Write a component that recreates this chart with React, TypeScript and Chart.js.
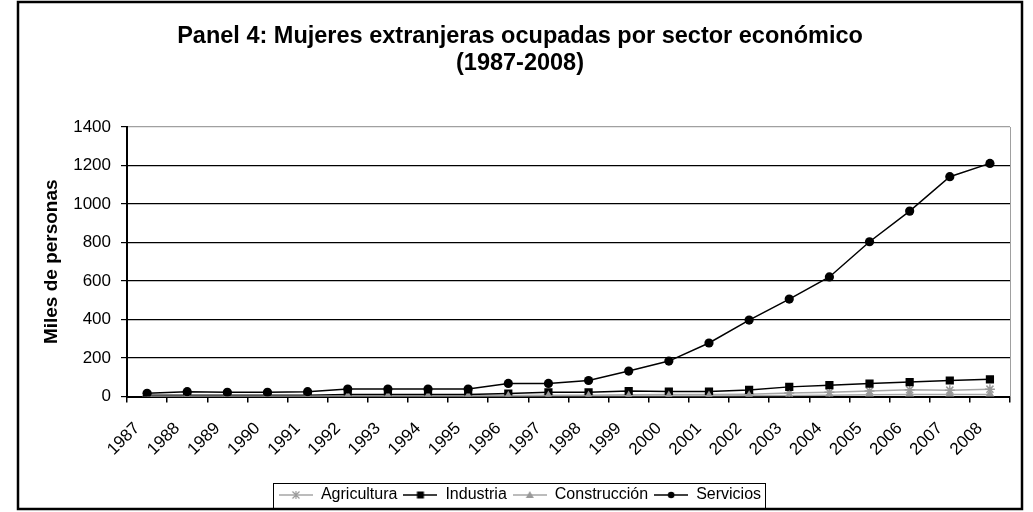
import React, { useEffect, useRef } from 'react';
import { Chart, registerables } from 'chart.js';

Chart.register(...registerables);

const years = ['1987', '1988', '1989', '1990', '1991', '1992', '1993', '1994', '1995', '1996', '1997',
  '1998', '1999', '2000', '2001', '2002', '2003', '2004', '2005', '2006', '2007', '2008'];
const agricultura = [3, 3, 3, 3, 3, 4, 4, 4, 4, 5, 7, 7, 9, 10, 10, 12, 18, 22, 28, 35, 33, 38];
const industria = [6, 6, 6, 6, 6, 10, 10, 10, 10, 15, 22, 22, 28, 26, 26, 34, 50, 59, 67, 75, 83, 89];
const construccion = [1, 1, 1, 1, 1, 1, 1, 1, 1, 1, 2, 2, 2, 3, 3, 4, 5, 7, 9, 10, 10, 10];
const servicios = [17, 25, 22, 22, 25, 39, 39, 39, 39, 68, 68, 83, 132, 184, 278, 397, 506, 621, 804, 963, 1142, 1211];
const yTicks = [0, 200, 400, 600, 800, 1000, 1200, 1400];

const FONT = "'Liberation Sans', Arial, Helvetica, sans-serif";

function makeSymbol(lineColor: string, markerColor: string, kind: string): HTMLCanvasElement {
  const c = document.createElement('canvas');
  c.width = 34;
  c.height = 12;
  const ctx = c.getContext('2d')!;
  ctx.strokeStyle = lineColor;
  ctx.lineWidth = 1.5;
  ctx.beginPath();
  ctx.moveTo(0, 6);
  ctx.lineTo(34, 6);
  ctx.stroke();
  const cx = 17, cy = 6;
  ctx.fillStyle = markerColor;
  ctx.strokeStyle = markerColor;
  if (kind === 'rect') {
    ctx.fillRect(cx - 3.5, cy - 3.5, 7, 7);
  } else if (kind === 'circle') {
    ctx.beginPath();
    ctx.arc(cx, cy, 3.3, 0, Math.PI * 2);
    ctx.fill();
  } else if (kind === 'triangle') {
    ctx.beginPath();
    ctx.moveTo(cx, cy - 4);
    ctx.lineTo(cx + 4, cy + 3);
    ctx.lineTo(cx - 4, cy + 3);
    ctx.closePath();
    ctx.fill();
  } else {
    ctx.lineWidth = 1.2;
    ctx.beginPath();
    ctx.moveTo(cx - 3.5, cy - 3.5); ctx.lineTo(cx + 3.5, cy + 3.5);
    ctx.moveTo(cx + 3.5, cy - 3.5); ctx.lineTo(cx - 3.5, cy + 3.5);
    ctx.moveTo(cx, cy - 4); ctx.lineTo(cx, cy + 4);
    ctx.stroke();
  }
  return c;
}

const framePlugin = {
  id: 'frame',
  afterDraw(chart: any) {
    const ctx = chart.ctx;
    ctx.save();
    const boxes = chart.legend?.legendHitBoxes || [];
    if (boxes.length) {
      let l = Infinity, r = -Infinity, t = Infinity, b = -Infinity;
      for (const h of boxes) {
        l = Math.min(l, h.left);
        r = Math.max(r, h.left + h.width);
        t = Math.min(t, h.top);
        b = Math.max(b, h.top + h.height);
      }
      ctx.strokeStyle = '#000';
      ctx.lineWidth = 1;
      ctx.strokeRect(Math.round(l - 6) + 0.5, Math.round(t - 4) + 0.5, Math.round(r - l + 10), Math.round(b - t + 9));
    }
    ctx.strokeStyle = '#000';
    ctx.lineWidth = 2.5;
    ctx.strokeRect(18, 2, 1004, 507);
    ctx.restore();
  },
};

export default function App() {
  const canvasRef = useRef<HTMLCanvasElement | null>(null);

  useEffect(() => {
    if (!canvasRef.current) return;
    const symbols = [
      makeSymbol('#a6a6a6', '#9a9a9a', 'star'),
      makeSymbol('#000000', '#000000', 'rect'),
      makeSymbol('#a6a6a6', '#999999', 'triangle'),
      makeSymbol('#000000', '#000000', 'circle'),
    ];
    const chart = new Chart(canvasRef.current, {
      type: 'line',
      data: {
        labels: years,
        datasets: [
          {
            label: 'Agricultura', data: agricultura, borderColor: '#a6a6a6', borderWidth: 1.5,
            pointStyle: 'star', pointRadius: 5, pointBorderColor: '#9a9a9a', pointBackgroundColor: '#9a9a9a',
            pointBorderWidth: 1.5, order: 3, tension: 0,
          },
          {
            label: 'Industria', data: industria, borderColor: '#000', borderWidth: 1.5,
            pointStyle: 'rect', pointRadius: 5.8, pointBorderColor: '#000', pointBackgroundColor: '#000',
            pointBorderWidth: 0, order: 2, tension: 0,
          },
          {
            label: 'Construcción', data: construccion, borderColor: '#a6a6a6', borderWidth: 1.5,
            pointStyle: 'triangle', pointRadius: 5.5, pointBorderColor: '#999', pointBackgroundColor: '#999',
            pointBorderWidth: 0, order: 1, tension: 0,
          },
          {
            label: 'Servicios', data: servicios, borderColor: '#000', borderWidth: 1.5,
            pointStyle: 'circle', pointRadius: 4.6, pointBorderColor: '#000', pointBackgroundColor: '#000',
            pointBorderWidth: 0, order: 0, tension: 0,
          },
        ],
      },
      options: {
        animation: false,
        responsive: false,
        devicePixelRatio: 1,
        layout: { padding: { left: 7, right: 0, top: 0, bottom: 5 } },
        plugins: {
          title: {
            display: true,
            text: ['Panel 4: Mujeres extranjeras ocupadas por sector económico', '(1987-2008)'],
            font: { family: FONT, size: 23.5, weight: 'bold', lineHeight: '27px' },
            color: '#000',
            padding: { top: 23, bottom: 50 },
          },
          legend: {
            position: 'bottom',
            maxHeight: 26,
            labels: {
              usePointStyle: true,
              pointStyleWidth: 34,
              boxHeight: 12,
              padding: 6,
              color: '#000',
              font: { family: FONT, size: 16 },
              generateLabels: (ch: any) =>
                ch.data.datasets.map((ds: any, i: number) => ({
                  text: ds.label,
                  datasetIndex: i,
                  pointStyle: symbols[i],
                  hidden: false,
                  fillStyle: 'transparent',
                  strokeStyle: 'transparent',
                  lineWidth: 0,
                  fontColor: '#000',
                })),
            },
          },
          tooltip: { enabled: false },
        },
        scales: {
          x: {
            offset: true,
            grid: { offset: true, drawOnChartArea: false, drawTicks: true, tickLength: 6, color: '#000', lineWidth: 1.5 },
            border: { color: '#000', width: 2 },
            ticks: {
              autoSkip: false, minRotation: 45, maxRotation: 45, padding: 16, labelOffset: -10,
              color: '#000', font: { family: FONT, size: 17 },
            },
            afterFit: (s: any) => { s.height = 84.5; },
          },
          y: {
            min: 0,
            max: 1400,
            afterBuildTicks: (s: any) => { s.ticks = yTicks.map((v) => ({ value: v })); },
            ticks: { padding: 10, color: '#000', font: { family: FONT, size: 17 }, callback: (v: any) => String(v) },
            grid: {
              color: (c: any) => (c.tick && c.tick.value === 1400 ? '#a0a0a0' : '#000'),
              tickColor: '#000',
              tickLength: 6,
              lineWidth: 1.2,
            },
            border: { color: '#000', width: 2 },
            title: {
              display: true,
              text: 'Miles de personas',
              color: '#000',
              font: { family: FONT, size: 19, weight: 'bold' },
              padding: { top: 33, bottom: 0 },
            },
            afterFit: (s: any) => { s.width = 120; },
          },
          y2: {
            position: 'right',
            min: 0,
            max: 1400,
            grid: { display: false },
            ticks: { display: false },
            border: { display: true, color: '#a0a0a0', width: 1 },
            afterFit: (s: any) => { s.width = 23; },
          },
        },
      } as any,
      plugins: [framePlugin],
    });
    return () => chart.destroy();
  }, []);

  return (
    <canvas
      ref={canvasRef}
      width={1033}
      height={512}
      style={{ position: 'absolute', left: 0, top: 0, width: 1033, height: 512 }}
    />
  );
}
